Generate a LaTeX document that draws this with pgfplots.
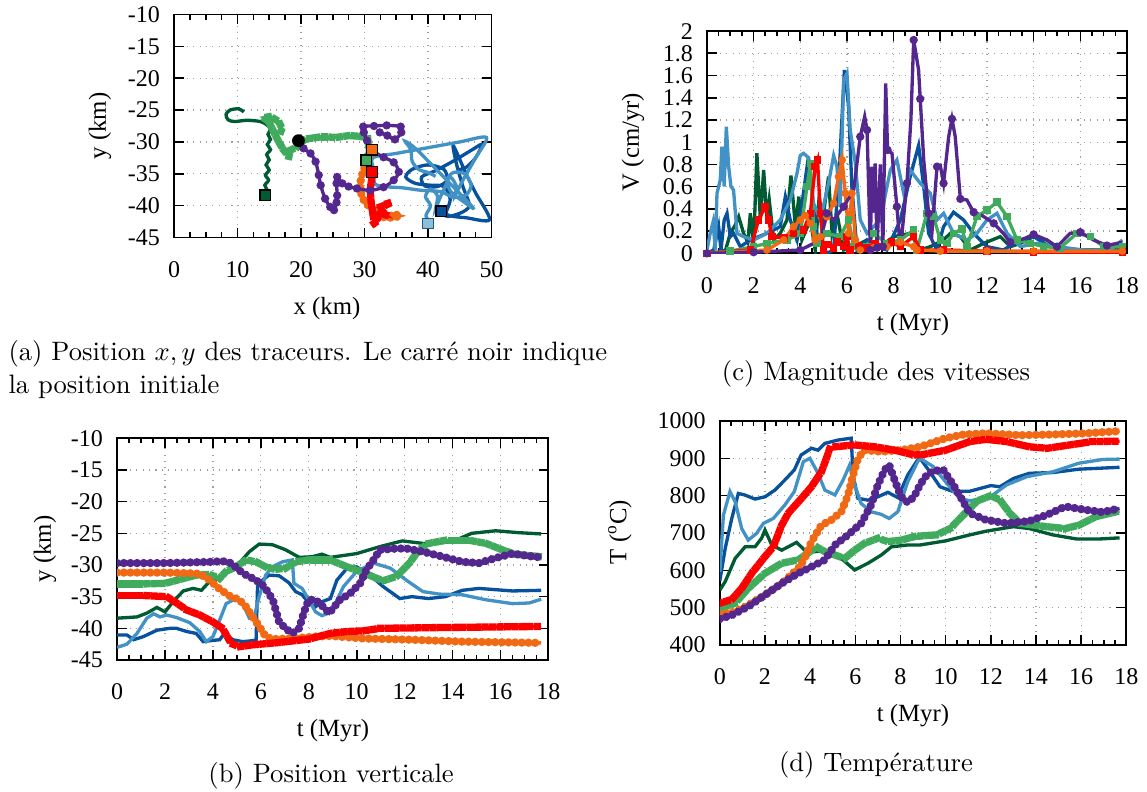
\documentclass[border=0pt]{standalone}
\usepackage{fontspec}
\usepackage{pgfplots}
\pgfplotsset{compat=1.18}
\usetikzlibrary{decorations.markings}
\newfontfamily\gpfont{Liberation Serif}

\definecolor{dkgreen}{RGB}{0,90,50}
\definecolor{ltgreen}{RGB}{65,171,93}
\definecolor{purp}{RGB}{84,39,143}
\definecolor{orng}{RGB}{241,105,19}
\definecolor{rd}{RGB}{252,0,0}
\definecolor{dkblue}{RGB}{8,81,156}
\definecolor{ltblue}{RGB}{66,146,198}

% dense marks along a line, as in the gnuplot output
\tikzset{
  dotsd/.style={postaction={decorate,decoration={markings,
      mark=between positions 0 and 1 step 2.5pt with {\fill[#1] (0pt,0pt) circle (0.9pt);}}}},
  sqsd/.style={postaction={decorate,decoration={markings,
      mark=between positions 0 and 1 step 2.8pt with {\fill[#1] (-0.75pt,-0.75pt) rectangle (0.75pt,0.75pt);}}}},
}

\pgfplotsset{
  gp/.style={
    scale only axis, anchor=south west,
    axis line style={line width=0.7pt},
    every tick/.style={black, line width=0.6pt},
    major tick length=3.7pt, minor tick length=1.9pt,
    minor x tick num=3,
    xmajorgrids, ymajorgrids,
    grid style={dotted, gray!75, line width=0.45pt},
    tick label style={font=\gpfont\fontsize{9}{10}\selectfont},
    /pgf/number format/assume math mode=true,
    /pgf/number format/1000 sep={},
    xticklabel style={yshift=-5.5pt},
    yticklabel style={xshift=-1.8pt},
  },
  ln/.style={line width=1.25pt},
}

\begin{document}
\begin{tikzpicture}
\useasboundingbox (0,0) rectangle (430.93pt,-297.55pt);
\tikzset{lab/.style={font=\gpfont\fontsize{9.3}{11}\selectfont}}

% ---------------- (a) x-y positions
\begin{axis}[gp, at={(65.37pt,-89.23pt)}, width=119.28pt, height=83.78pt,
  xmin=0, xmax=50, ymin=-45, ymax=-10,
  xtick={0,10,20,30,40,50}, ytick={-45,-40,-35,-30,-25,-20,-15,-10}]
\addplot[dkblue, ln, smooth, tension=0.5] coordinates {(42.1,-40.9)(43.5,-41.6)(46,-41.9)(49.7,-42.2)(47.5,-38)(46,-35)(44,-30.6)(44.5,-33.5)(45.5,-37)(46.5,-40)(45,-41.2)(42.8,-41.6)(43.5,-39)(42.5,-37)(40.5,-36.8)(38,-36.5)(36.5,-35.5)(37.5,-34.3)(40,-33.6)(42.5,-34.3)(43,-36)(41.5,-37)(39.5,-36.9)(39,-35.5)(41,-34.6)(44,-33)(47,-31.2)(48.5,-30.4)(47.5,-32.5)(46,-34)(45,-34.3)};
\addplot[ltblue, ln, smooth, tension=0.5] coordinates {(40,-42.8)(39.7,-41.5)(40.4,-40)(39.6,-38.6)(40.4,-37.4)(41.5,-38.5)(41.2,-40.5)(41.8,-39)(42.8,-36.8)(43.5,-35.5)(44.5,-37)(44.2,-38.5)(45.5,-36)(47.5,-32.5)(49.2,-29.3)(45,-30)(40,-30.9)(35,-31.8)(31.3,-32.5)(31.5,-34.5)(31.6,-36.5)(33,-37)(36,-37.2)(39,-37.6)(42,-37.8)(44,-38.7)(46,-38.3)(46.8,-36.8)(45.8,-35)(44,-34.8)(43,-36)(43.6,-37.8)(45.5,-39.3)(47,-40.2)(41,-34)(38,-31)(36.4,-29.9)(37.3,-31.2)(37.5,-33)(38.5,-34.3)(40,-34.8)(41.2,-35.4)};
\addplot[dkgreen, ln, smooth, tension=0.5] coordinates {(14.4,-38.4)(14.7,-37.6)(14.3,-36.8)(14.9,-36.0)(14.4,-35.2)(15.0,-34.4)(14.5,-33.6)(15.0,-32.8)(14.6,-32.0)(15.2,-31.2)(14.7,-30.4)(15.2,-29.6)(14.8,-28.8)(15.2,-28.0)(14.6,-27.3)(13.6,-26.8)(11.5,-26.6)(9.5,-26.8)(8.5,-26.5)(8.2,-25.7)(8.8,-25.0)(10.2,-24.8)(11.0,-25.3)};
\addplot[ltgreen, ln, sqsd=ltgreen] coordinates {(30.3,-32.9)(30.6,-32.2)(30.8,-31.4)(30.6,-30.3)(30.5,-29.3)(29,-29.1)(27.6,-29)(25.5,-29.3)(24,-29.2)(23.1,-29.2)(21.8,-29.4)(20.9,-29.5)(20,-30)(19.4,-30.8)(18.3,-31.3)(18.1,-32.3)(17.3,-31.3)(16.5,-30)(15.7,-28.4)(14.9,-26.8)(14.1,-26.2)(15.2,-26)(16.5,-26.8)(17,-27.9)(16.7,-28.7)};
\addplot[orng, ln, dotsd=orng] coordinates {(31.2,-31.2)(30.5,-32.8)(29.8,-34.5)(29.4,-36)(29.3,-37.6)(29.8,-39)(30.6,-40)(31.8,-41)(33,-41.8)(34.5,-41.9)(35.6,-41.6)(34.5,-41.3)(33.5,-42.1)};
\addplot[rd, ln, sqsd=rd] coordinates {(31.2,-34.7)(31.1,-36)(30.9,-37.5)(31,-39)(31.2,-40.5)(31.4,-41.8)(31.5,-42.8)(32.2,-42.3)(31.6,-41.8)(32.5,-41.2)(33.5,-41.5)(32.2,-40.3)(33.6,-39.8)(34.2,-39.5)(33.5,-39.7)};
\addplot[purp, ln, smooth, tension=0.5, mark=*, mark size=0.9pt] coordinates {(19.6,-29.8)(20.4,-31)(21.5,-31.8)(22.3,-33.1)(22.8,-35.2)(23.1,-36.8)(23.8,-38.9)(24.6,-40.2)(25.2,-40.7)(25.6,-39.5)(25.7,-38.4)(25.6,-36.5)(25.7,-35.5)(26.5,-36.5)(27.5,-37)(28.8,-37.3)(30.9,-37.6)(33,-37.1)(34.6,-36.0)(35.4,-34.7)(34.6,-33.2)(33,-32.4)(31.4,-31.4)(30.4,-29.8)(29.9,-28.5)(29.8,-27.6)(31.5,-27.5)(33.5,-27.4)(35.7,-27.6)(35.8,-28.5)(34.8,-29.6)(33.6,-29)(32.4,-28.5)};
\addplot[only marks, mark=square*, mark size=2pt, mark options={fill=dkgreen, draw=black, line width=0.5pt}] coordinates {(14.4,-38.4)};
\addplot[only marks, mark=square*, mark size=2pt, mark options={fill=dkblue, draw=black, line width=0.5pt}] coordinates {(42.1,-40.9)};
\addplot[only marks, mark=square*, mark size=2pt, mark options={fill=ltblue!60!white, draw=ltblue!60!black, line width=0.5pt}] coordinates {(40,-42.8)};
\addplot[only marks, mark=square*, mark size=2pt, mark options={fill=ltgreen, draw=black, line width=0.5pt}] coordinates {(30.3,-32.9)};
\addplot[only marks, mark=square*, mark size=2pt, mark options={fill=orng, draw=black, line width=0.5pt}] coordinates {(31.2,-31.2)};
\addplot[only marks, mark=square*, mark size=2pt, mark options={fill=rd, draw=black, line width=0.5pt}] coordinates {(31.2,-34.7)};
\addplot[only marks, mark=*, mark size=2.2pt, black] coordinates {(19.6,-29.8)};
\end{axis}
\node[lab] at (122.85pt,-116.09pt) {x (km)};
\node[lab, rotate=90] at (37.57pt,-47.34pt) {y (km)};

% ---------------- (c) velocity magnitude
\begin{axis}[gp, at={(265.6pt,-95.17pt)}, width=157.8pt, height=83.5pt,
  xmin=0, xmax=18, ymin=0, ymax=2,
  xtick={0,2,4,6,8,10,12,14,16,18}, ytick={0,0.2,0.4,0.6,0.8,1,1.2,1.4,1.6,1.8,2}]
\addplot[dkgreen, ln] coordinates {(0,0)(0.5,0.01)(0.8,0.03)(1.0,0.18)(1.2,0.25)(1.36,0.33)(1.57,0.18)(1.75,0.1)(1.86,0.36)(2.0,0.06)(2.14,0.9)(2.29,0.3)(2.43,0.75)(2.57,0.3)(2.67,0.48)(2.86,0.12)(3.14,0.18)(3.43,0.3)(3.6,0.7)(3.79,0.24)(3.94,0.51)(4.07,0.12)(4.43,0.3)(4.64,0.03)(4.81,0.51)(4.96,0.3)(5.21,0.69)(5.36,0.18)(5.57,0.36)(5.86,0.03)(6.29,0.06)(6.86,0.12)(7.43,0.06)(8.0,0.15)(8.71,0.18)(9.14,0.03)(9.57,0.06)(10.14,0.12)(10.43,0.18)(10.86,0.15)(11.29,0.03)(11.86,0.09)(12.57,0.15)(13.0,0.06)(13.43,0.09)(14.0,0.15)(14.57,0.12)(15.14,0.03)(16.57,0.03)(17.8,0.03)};
\addplot[dkblue, ln] coordinates {(0,0)(0.29,0.03)(0.5,0.24)(0.6,0.03)(0.74,0.3)(0.86,0.36)(1.0,0.15)(1.14,0.18)(1.43,0.06)(1.86,0.12)(2.57,0.18)(3.14,0.24)(3.36,0.51)(3.57,0.3)(3.86,0.12)(4.29,0.78)(4.43,0.66)(4.71,0.18)(5.14,0.0)(5.43,0.03)(5.71,0.9)(5.89,1.65)(6.07,1.32)(6.21,0.6)(6.43,0.03)(6.86,0.12)(7.29,0.06)(7.71,0.03)(8.29,0.3)(8.71,0.69)(9.07,0.97)(9.29,0.6)(9.5,0.18)(9.86,0.03)(10.14,0.24)(10.57,0.37)(11.0,0.3)(11.43,0.18)(12.0,0.06)(12.7,0.03)(13.43,0.12)(14.0,0.15)(14.7,0.06)(15.86,0.03)(17.8,0.03)};
\addplot[ltblue, ln] coordinates {(0,0.03)(0.14,0.18)(0.26,0.28)(0.36,0.03)(0.43,0.54)(0.57,0.66)(0.64,0.96)(0.74,0.6)(0.83,1.14)(0.93,0.78)(1.03,0.6)(1.14,0.57)(1.29,0.18)(1.57,0.15)(2.0,0.12)(2.57,0.18)(3.14,0.3)(3.57,0.48)(3.86,0.72)(4.0,0.88)(4.14,0.9)(4.36,0.86)(4.57,0.45)(4.86,0.3)(5.21,0.63)(5.43,0.88)(5.57,0.78)(5.71,0.42)(5.86,1.56)(6.0,1.62)(6.14,1.11)(6.36,0.81)(6.57,0.3)(6.86,0.18)(7.43,0.3)(7.86,0.75)(8.14,0.84)(8.43,0.54)(8.71,0.75)(9.14,0.63)(9.57,0.54)(9.86,0.3)(10.14,0.36)(10.57,0.18)(11.14,0.12)(11.57,0.18)(12.0,0.3)(12.43,0.36)(12.86,0.18)(13.43,0.06)(14.14,0.09)(15.0,0.06)(16.14,0.03)(17.29,0.03)(17.8,0.12)};
\addplot[ltgreen, ln, mark=square*, mark size=0.8pt] coordinates {(0,0)(1.0,0.02)(2.0,0.06)(2.57,0.09)(3.43,0.12)(4.0,0.18)(4.29,0.6)(4.43,0.81)(4.57,0.24)(4.71,0.09)(5.14,0.18)(5.71,0.15)(6.07,0.3)(6.29,0.06)(6.86,0.06)(7.14,0.18)(7.71,0.09)(8.29,0.12)(8.86,0.21)(9.0,0.03)(9.43,0.36)(9.71,0.33)(10.0,0.12)(10.29,0.09)(10.57,0.18)(10.93,0.22)(11.14,0.06)(11.57,0.33)(12.0,0.39)(12.43,0.46)(12.86,0.33)(13.29,0.12)(13.86,0.09)(14.43,0.06)(15.14,0.05)(15.86,0.18)(16.43,0.15)(17.0,0.06)(17.8,0.06)};
\addplot[rd, ln, mark=square*, mark size=0.8pt] coordinates {(0,0)(1.86,0.03)(2.21,0.3)(2.5,0.42)(2.64,0.3)(2.79,0.15)(3.29,0.14)(3.71,0.18)(4.14,0.21)(4.43,0.36)(4.64,0.78)(4.74,0.84)(4.86,0.36)(5.0,0.03)(5.2,0.08)(5.43,0.05)(5.6,0.1)(5.86,0.06)(6.0,0.15)(6.14,0.03)(6.5,0.07)(6.86,0.05)(7.2,0.09)(7.5,0.06)(7.9,0.1)(8.29,0.06)(8.86,0.15)(9.14,0.03)(10.14,0.03)(12,0.02)(14,0.01)(17.8,0.01)};
\addplot[orng, ln, mark=*, mark size=0.8pt] coordinates {(0,0)(2.57,0.03)(3.29,0.12)(3.71,0.24)(4.0,0.3)(4.21,0.34)(4.43,0.27)(4.64,0.12)(4.86,0.15)(5.14,0.33)(5.43,0.45)(5.64,0.69)(5.79,0.84)(5.93,0.54)(6.07,0.18)(6.21,0.54)(6.36,0.12)(6.57,0.03)(7.14,0.05)(7.71,0.06)(8.29,0.1)(8.86,0.06)(9.0,0.03)(10,0.02)(12,0.02)(14,0.02)(17.8,0.02)};
\addplot[purp, ln, mark=*, mark size=0.9pt, mark repeat=2] coordinates {(0,0)(1,0.005)(2,0.01)(3,0.02)(4.0,0.03)(4.86,0.12)(5.14,0.36)(5.43,0.3)(5.86,0.42)(6.29,0.57)(6.57,1.05)(6.76,1.23)(6.86,1.11)(6.93,0.6)(7.0,0.03)(7.07,0.78)(7.14,0.4)(7.21,0.81)(7.29,0.05)(7.43,0.8)(7.54,0.06)(7.66,1.53)(7.74,0.93)(7.93,0.9)(8.14,0.42)(8.29,0.03)(8.57,0.63)(8.74,1.2)(8.86,1.92)(9.07,1.65)(9.14,1.39)(9.29,0.84)(9.5,0.36)(9.64,0.18)(9.86,0.78)(10.0,0.79)(10.14,0.63)(10.36,1.05)(10.5,1.21)(10.64,1.05)(10.86,0.49)(11.14,0.48)(11.43,0.37)(11.79,0.34)(12.29,0.27)(12.7,0.18)(13.0,0.1)(13.57,0.13)(14.0,0.17)(14.57,0.12)(15.0,0.06)(15.57,0.18)(16.0,0.19)(16.57,0.12)(17.14,0.07)(17.8,0.1)};
\end{axis}
\node[lab] at (343.0pt,-122.1pt) {t (Myr)};
\node[lab, rotate=90] at (237.82pt,-53.35pt) {V (cm/yr)};

% ---------------- (b) vertical position
\begin{axis}[gp, at={(44.0pt,-247.96pt)}, width=162.04pt, height=83.3pt,
  xmin=0, xmax=18, ymin=-45, ymax=-10,
  xtick={0,2,4,6,8,10,12,14,16,18}, ytick={-45,-40,-35,-30,-25,-20,-15,-10}]
\addplot[dkblue, ln] coordinates {(0,-41.05)(0.41,-41.05)(0.69,-41.8)(1.1,-41.3)(1.66,-40.3)(2.2,-40)(2.48,-40)(2.9,-40.5)(3.3,-40.8)(3.59,-42.1)(4.0,-41.9)(4.28,-41.8)(4.48,-40.8)(4.83,-41.8)(5.24,-42.1)(5.8,-41.9)(5.86,-33.4)(6.07,-32.4)(6.34,-31.6)(6.76,-31.7)(7.17,-32.8)(7.45,-34.2)(7.72,-34.7)(8.0,-36)(8.28,-36.6)(8.55,-35.8)(8.9,-35.3)(9.17,-32.4)(9.6,-30.5)(10.0,-30.3)(10.55,-31.6)(11.1,-33.4)(11.8,-35.3)(12.3,-35)(13.0,-35.3)(13.7,-35)(14.4,-34)(15.1,-33.7)(16.5,-34.1)(17.7,-34)};
\addplot[ltblue, ln] coordinates {(0,-43)(0.41,-42.5)(0.83,-40.8)(1.24,-38.4)(1.52,-37.7)(1.79,-38.2)(2.07,-37.9)(2.48,-38.3)(3.03,-39.1)(3.45,-40.5)(3.72,-42.1)(4.0,-41.3)(4.28,-38.7)(4.55,-36.1)(4.96,-35.3)(5.24,-36.1)(5.52,-38.4)(5.72,-38.2)(5.93,-35)(6.2,-31.6)(6.48,-30.3)(6.9,-29.5)(7.31,-29.2)(7.38,-32.9)(7.72,-33.7)(8.0,-35.5)(8.28,-37.4)(8.55,-38)(8.83,-37.6)(9.05,-36.5)(9.45,-33.4)(10.0,-31)(10.7,-29.7)(11.4,-30.5)(12.07,-32.4)(12.76,-34.2)(13.45,-34.6)(14.4,-34.7)(15.4,-35.5)(16.5,-36.1)(17.2,-36)(17.7,-35.4)};
\addplot[dkgreen, ln] coordinates {(0,-38.4)(0.83,-38.2)(1.24,-37.6)(1.66,-36.7)(2.0,-37.4)(2.34,-35.8)(2.76,-34.1)(3.17,-33.7)(3.52,-34)(3.86,-32.6)(4.28,-32.1)(4.7,-30.8)(5.1,-29.7)(5.52,-27.9)(5.93,-26.7)(6.48,-26.8)(7.03,-27.6)(7.6,-28.8)(8.14,-28.7)(8.55,-28.3)(8.9,-28.8)(10.0,-28.2)(10.97,-27.1)(11.9,-26.2)(13.0,-26.7)(14.0,-26.3)(14.8,-25)(15.8,-24.6)(16.76,-24.9)(17.7,-25.1)};
\addplot[ltgreen, ln, sqsd=ltgreen] coordinates {(0,-33)(1,-33)(2,-32.9)(2.5,-32.4)(3.3,-31.6)(3.86,-31.5)(4.28,-32.1)(4.55,-31)(4.96,-30.3)(5.38,-29.2)(5.8,-29.5)(6.2,-30.3)(6.6,-30.7)(7.03,-30.5)(7.45,-29.5)(8.0,-29.2)(8.9,-29.2)(9.6,-30.3)(10.28,-31.2)(10.7,-31.9)(11.1,-32.5)(11.66,-31.8)(12.2,-29.7)(12.6,-27.6)(13.0,-26.6)(13.7,-26.1)(14.7,-26.1)(15.4,-26.6)(16.07,-27.6)(16.6,-28.3)(17.7,-28.7)};
\addplot[orng, ln, dotsd=orng] coordinates {(0,-31.2)(1,-31.2)(2,-31.2)(3,-31.3)(3.45,-31.4)(3.86,-32.4)(4.28,-33.8)(4.7,-34.9)(5.1,-35.5)(5.38,-36.6)(5.66,-38.2)(5.93,-39.7)(6.2,-41.3)(6.48,-41.7)(7.3,-41.6)(8.28,-41.3)(8.9,-41.2)(10.28,-41.6)(12.3,-41.8)(14.4,-42.1)(17.7,-42.3)};
\addplot[rd, ln, sqsd=rd] coordinates {(0,-34.8)(1,-34.8)(2.07,-35)(2.48,-36)(2.9,-37.1)(3.45,-37.9)(4.0,-39)(4.4,-40)(4.76,-42.4)(5.1,-42.9)(5.66,-42.6)(6.6,-42.3)(8.0,-41.7)(8.9,-40.8)(9.6,-40.5)(10.28,-40.4)(10.97,-40)(13.0,-39.9)(17.7,-39.7)};
\addplot[purp, ln, dotsd=purp] coordinates {(0,-29.7)(1,-29.7)(2,-29.7)(3,-29.6)(4,-29.5)(4.4,-29.4)(4.76,-29.7)(5.24,-31.3)(5.8,-32.4)(6.14,-33.4)(6.5,-35.5)(6.76,-39)(7.03,-40)(7.3,-40.8)(7.6,-40)(7.8,-37.4)(8.0,-35.5)(8.28,-35.5)(8.6,-36.6)(8.85,-37.6)(9.3,-35.5)(9.72,-34.5)(10.14,-32.9)(10.4,-30.8)(10.7,-29.2)(10.97,-27.6)(11.66,-27.4)(12.07,-27.4)(12.76,-27.9)(13.6,-28.7)(14.4,-29.5)(15.1,-29.7)(15.8,-28.9)(16.5,-28.2)(17.2,-28.6)(17.7,-28.8)};
\end{axis}
\node[lab] at (125.1pt,-274.6pt) {t (Myr)};
\node[lab, rotate=90] at (16.91pt,-206.26pt) {y (km)};

% ---------------- (d) temperature
\begin{axis}[gp, at={(270.43pt,-242.33pt)}, width=152.72pt, height=84.16pt,
  xmin=0, xmax=18, ymin=400, ymax=1000,
  xtick={0,2,4,6,8,10,12,14,16,18}, ytick={400,500,600,700,800,900,1000}]
\addplot[dkblue, ln] coordinates {(0,572)(0.24,659)(0.53,739)(0.82,806)(1.1,802)(1.56,791)(2,797)(2.44,815)(2.88,842)(3.3,869)(3.6,909)(4.06,927)(4.35,922)(4.65,940)(5.23,949)(5.82,954)(5.9,855)(6.12,793)(6.56,788)(7.0,797)(7.44,809)(7.88,795)(8.32,855)(8.76,896)(8.87,900)(9.3,864)(9.75,824)(10.34,811)(11.07,812)(12,827)(12.4,824)(13,846)(13.7,860)(14.75,862)(15.9,871)(17.7,876)};
\addplot[ltblue, ln] coordinates {(0,596)(0.16,748)(0.45,811)(0.68,784)(0.97,712)(1.26,681)(1.63,699)(1.93,726)(2.37,739)(2.88,775)(3.3,811)(3.7,891)(3.99,900)(4.35,860)(4.65,815)(5.1,802)(5.46,842)(5.75,882)(5.97,829)(6.26,779)(6.7,757)(7.15,750)(7.5,739)(7.88,757)(8.32,837)(8.76,891)(8.87,900)(9.45,878)(10.04,834)(10.6,794)(11.07,786)(12,798)(12.7,829)(13.6,851)(14.75,864)(15.9,887)(16.95,897)(17.7,898)};
\addplot[dkgreen, ln] coordinates {(0,547)(0.24,570)(0.68,632)(1.12,663)(1.56,663)(1.85,686)(2,708)(2.3,668)(2.74,654)(3.03,663)(3.4,675)(3.76,654)(4.2,650)(4.8,654)(5.38,632)(5.97,601)(6.56,619)(7.15,641)(7.6,663)(8.32,668)(8.87,668)(10,679)(11.07,695)(11.8,705)(13,717)(13.7,712)(14.75,695)(15.8,684)(16.8,684)(17.7,687)};
\addplot[ltgreen, ln, sqsd=ltgreen] coordinates {(0,498)(0.68,512)(1.26,552)(2,592)(2.74,619)(3.47,628)(3.9,646)(4.28,663)(4.65,650)(5.1,641)(5.53,632)(5.97,654)(6.4,672)(7.0,686)(7.44,677)(8.03,681)(8.6,690)(9.06,693)(9.6,695)(10.2,712)(10.78,748)(11.4,786)(12,800)(12.4,789)(12.84,753)(13.3,726)(14.46,717)(15.3,712)(15.9,721)(16.66,744)(17.7,759)};
\addplot[orng, ln, dotsd=orng] coordinates {(0,482)(0.68,489)(1.26,507)(2,534)(2.74,565)(3.47,605)(3.76,632)(4.06,677)(4.5,721)(4.94,735)(5.38,757)(5.68,802)(5.9,855)(6.12,900)(6.4,922)(7.15,918)(8.03,922)(8.87,931)(10,954)(10.8,964)(11.8,967)(13.3,962)(14.75,964)(16.2,967)(17.7,973)};
\addplot[rd, ln, sqsd=rd] coordinates {(0,512)(0.53,522)(0.97,552)(1.41,592)(2,637)(2.37,663)(2.74,721)(3.03,753)(3.62,793)(4.06,824)(4.5,864)(4.72,900)(4.87,927)(5.1,931)(5.97,936)(6.85,931)(7.74,922)(8.6,909)(9.06,911)(10,922)(11.07,945)(11.8,951)(12.7,945)(13.7,931)(14.5,927)(15.5,936)(16.5,945)(17.7,946)};
\addplot[purp, ln, dotsd=purp] coordinates {(0,470)(0.53,480)(1.26,503)(2,534)(2.74,565)(3.47,592)(4.2,614)(4.65,628)(5.1,668)(5.68,695)(6.26,726)(6.7,775)(7.0,829)(7.3,869)(7.5,882)(7.74,842)(8.03,797)(8.32,782)(8.6,797)(8.87,830)(9.16,855)(9.45,866)(9.9,869)(10.34,829)(10.78,784)(11.07,753)(11.8,735)(12.7,726)(13.7,732)(14.46,748)(15.3,771)(16.2,762)(16.95,756)(17.7,766)};
\end{axis}
\node[lab] at (343.0pt,-269.0pt) {t (Myr)};
\node[lab, rotate=90] at (232.9pt,-199.9pt) {T (\textsuperscript{o}C)};

% ---------------- captions
\node[anchor=base west, inner sep=0pt] at (3.0pt,-135.6pt) {(a) Position $x,y$ des traceurs. Le carré noir indique};
\node[anchor=base west, inner sep=0pt] at (3.0pt,-148.0pt) {la position initiale};
\node[anchor=base, inner sep=0pt] at (329.1pt,-142.8pt) {(c) Magnitude des vitesses};
\node[anchor=base, inner sep=0pt] at (124.4pt,-293.8pt) {(b) Position verticale};
\node[anchor=base, inner sep=0pt] at (329.1pt,-290.0pt) {(d) Température};
\end{tikzpicture}
\end{document}
